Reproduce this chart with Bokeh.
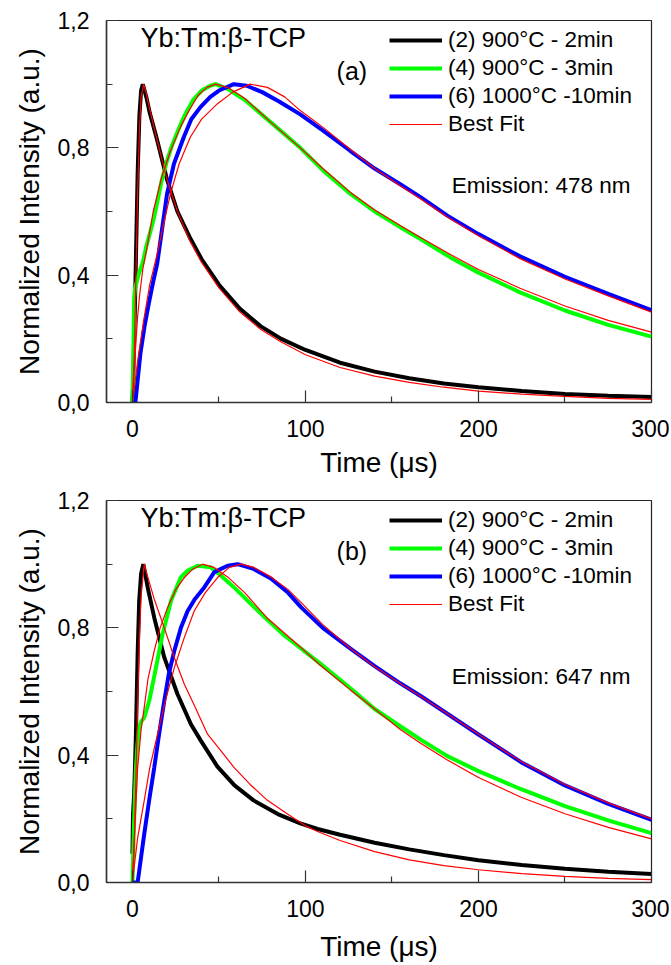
from bokeh.plotting import figure
from bokeh.models import Legend, LegendItem, Label, FixedTicker, CustomJSTickFormatter, Range1d
from bokeh.layouts import column
from bokeh.embed import file_html
from bokeh.resources import INLINE

FONT = "Liberation Sans"

# ---------------- Panel (a): Emission 478 nm ----------------
a_black_t = [0, 0.5, 1, 1.5, 2, 3, 4, 5, 6, 8, 10, 14, 20, 26, 33, 40, 50, 62, 74, 86, 100, 120, 140, 160, 180, 200, 225, 250, 275, 300]
a_black_y = [0, 0.08, 0.2, 0.32, 0.45, 0.72, 0.9, 0.98, 1.0, 0.96, 0.91, 0.83, 0.70, 0.60, 0.52, 0.45, 0.37, 0.295, 0.24, 0.20, 0.165, 0.125, 0.097, 0.076, 0.06, 0.048, 0.036, 0.027, 0.021, 0.017]
a_black_fit_t = [0, 1, 2, 3, 4, 5, 6.5, 8, 10, 14, 20, 26, 33, 40, 50, 62, 74, 86, 100, 120, 140, 160, 180, 200, 225, 250, 275, 300]
a_black_fit_y = [0, 0.15, 0.40, 0.66, 0.85, 0.96, 1.0, 0.97, 0.92, 0.83, 0.70, 0.60, 0.51, 0.44, 0.36, 0.285, 0.23, 0.19, 0.15, 0.11, 0.083, 0.063, 0.048, 0.036, 0.026, 0.019, 0.013, 0.01]

a_green_t = [0, 0.5, 1, 1.5, 2, 3, 4, 6, 8, 10, 12, 14, 17, 20, 23, 26, 30, 35, 40, 45, 48, 55, 65, 80, 97, 110, 126, 140, 155, 166, 184, 200, 224, 250, 275, 300]
a_green_y = [0, 0.15, 0.33, 0.36, 0.37, 0.39, 0.41, 0.44, 0.49, 0.53, 0.57, 0.62, 0.70, 0.76, 0.81, 0.85, 0.90, 0.95, 0.98, 0.995, 1.0, 0.985, 0.95, 0.88, 0.80, 0.73, 0.655, 0.60, 0.55, 0.515, 0.455, 0.408, 0.346, 0.289, 0.244, 0.207]
a_green_fit_t = [0, 1, 2, 3, 4, 6, 8.5, 12, 17, 22, 27.7, 33, 38, 43, 48, 55, 65, 80, 97, 110, 126, 140, 155, 166, 184, 200, 224, 250, 275, 300]
a_green_fit_y = [0, 0.1, 0.19, 0.27, 0.33, 0.42, 0.49, 0.6, 0.71, 0.79, 0.865, 0.92, 0.965, 0.99, 1.0, 0.99, 0.955, 0.88, 0.80, 0.735, 0.66, 0.605, 0.555, 0.52, 0.464, 0.418, 0.359, 0.303, 0.258, 0.221]

a_blue_t = [0, 1.7, 3, 4.6, 7, 9.4, 12, 14.3, 17, 20, 24, 29.7, 34, 39.3, 45, 50, 58.6, 66, 75, 85, 97, 110, 126, 140, 155, 166.5, 182, 200, 224, 250, 275, 300]
a_blue_y = [0, 0, 0.07, 0.154, 0.24, 0.31, 0.38, 0.436, 0.54, 0.656, 0.75, 0.834, 0.89, 0.928, 0.96, 0.98, 1.0, 0.995, 0.975, 0.945, 0.905, 0.855, 0.79, 0.735, 0.685, 0.645, 0.587, 0.529, 0.459, 0.395, 0.341, 0.29]
a_blue_fit_t = [0, 1, 3, 6.5, 10, 14.3, 18, 22, 27, 33.5, 40, 49, 58, 68, 78, 88, 97, 110, 126, 140, 155, 166.5, 182, 200, 224, 250, 275, 300]
a_blue_fit_y = [0, 0.04, 0.13, 0.258, 0.37, 0.467, 0.56, 0.656, 0.75, 0.834, 0.89, 0.938, 0.975, 1.0, 0.99, 0.96, 0.917, 0.865, 0.795, 0.735, 0.68, 0.64, 0.583, 0.524, 0.452, 0.388, 0.335, 0.284]

# ---------------- Panel (b): Emission 647 nm ----------------
b_black_t = [0, 0.3, 1, 1.5, 2, 3, 3.9, 5, 6.3, 8.8, 12.6, 18.4, 26, 33.8, 39.6, 49, 59, 70, 84, 97, 107, 120, 140, 160, 180, 200, 225, 250, 275, 300]
b_black_y = [0.09, 0.21, 0.28, 0.37, 0.466, 0.72, 0.885, 0.97, 1.0, 0.927, 0.832, 0.707, 0.592, 0.497, 0.445, 0.365, 0.305, 0.258, 0.215, 0.186, 0.168, 0.15, 0.125, 0.104, 0.086, 0.07, 0.055, 0.043, 0.034, 0.027]
b_black_fit_t = [0, 1, 2, 3, 4, 5, 6.8, 9, 12.6, 18.4, 24, 30, 36, 43.4, 50, 58.8, 68, 78, 89.6, 100, 107, 120, 140, 160, 180, 200, 225, 250, 275, 300]
b_black_fit_y = [0, 0.12, 0.33, 0.56, 0.76, 0.9, 1.0, 0.957, 0.89, 0.80, 0.709, 0.623, 0.554, 0.466, 0.421, 0.361, 0.308, 0.258, 0.215, 0.178, 0.16, 0.132, 0.097, 0.071, 0.053, 0.04, 0.028, 0.019, 0.013, 0.009]

b_green_t = [0, 1, 2, 3, 3.9, 5, 6.8, 9.7, 13.6, 17.4, 22.3, 27.9, 32, 37.6, 45.3, 52, 58.8, 68.5, 78, 88, 97.4, 108, 126, 140, 155, 166.8, 182, 200, 224.6, 250, 275, 300]
b_green_y = [0, 0.2, 0.361, 0.44, 0.487, 0.505, 0.518, 0.571, 0.675, 0.78, 0.885, 0.958, 0.98, 0.995, 0.99, 0.96, 0.927, 0.875, 0.825, 0.775, 0.735, 0.69, 0.61, 0.545, 0.49, 0.448, 0.397, 0.35, 0.293, 0.24, 0.195, 0.155]
b_green_fit_t = [0, 1, 3, 5, 6.8, 9, 12.6, 16, 20.3, 25, 30, 35, 40.5, 47, 55, 65, 78, 97, 108, 126, 140, 155, 166.8, 182, 200, 224.6, 250, 275, 300]
b_green_fit_y = [0, 0.13, 0.36, 0.48, 0.55, 0.64, 0.728, 0.8, 0.864, 0.92, 0.958, 0.985, 1.0, 0.99, 0.96, 0.91, 0.83, 0.74, 0.685, 0.605, 0.545, 0.48, 0.437, 0.385, 0.33, 0.268, 0.216, 0.173, 0.137]

b_blue_t = [0, 3, 5, 6.8, 9.7, 12.6, 15.5, 18.4, 21, 24.2, 28, 31.9, 36, 41.5, 47.3, 55, 60.8, 70, 80, 90, 97.4, 110, 126, 140, 155, 166.8, 182, 200, 224.6, 250, 275, 300]
b_blue_y = [0, 0, 0.08, 0.152, 0.26, 0.361, 0.47, 0.571, 0.655, 0.728, 0.80, 0.853, 0.89, 0.927, 0.975, 0.995, 1.0, 0.985, 0.955, 0.91, 0.865, 0.80, 0.735, 0.68, 0.625, 0.585, 0.53, 0.465, 0.378, 0.305, 0.247, 0.197]
b_blue_fit_t = [0, 1, 3, 6.8, 10, 14.5, 19, 24.2, 30, 35.7, 42, 49.2, 56, 62.7, 70, 80, 90, 97.4, 110, 126, 140, 155, 166.8, 182, 200, 224.6, 250, 275, 300]
b_blue_fit_y = [0, 0.05, 0.14, 0.257, 0.36, 0.466, 0.57, 0.675, 0.77, 0.853, 0.91, 0.958, 0.99, 1.0, 0.99, 0.96, 0.92, 0.88, 0.81, 0.735, 0.678, 0.624, 0.584, 0.53, 0.466, 0.38, 0.308, 0.25, 0.2]

series_labels = ["(2) 900°C - 2min", "(4) 900°C - 3min", "(6) 1000°C -10min", "Best Fit"]
x_ticks = [0, 100, 200, 300]
x_minor = [50, 150, 250]
y_ticks = [0.0, 0.4, 0.8, 1.2]
y_minor = [0.2, 0.6, 1.0]
sample_text = "Yb:Tm:β-TCP"
x_title = "Time (μs)"
y_title = "Normalized Intensity (a.u.)"

BLACK, GREEN, BLUE, RED = "#000000", "#00ff00", "#0000ff", "#ff0000"


def make_panel(data, tag, emission, top_border, bottom_border, xlabel_standoff):
    p = figure(frame_width=545, frame_height=382,
               x_range=Range1d(-15, 300), y_range=Range1d(0, 1.2),
               output_backend="svg", toolbar_location=None,
               min_border_left=106, min_border_right=18,
               min_border_top=top_border, min_border_bottom=bottom_border)
    p.grid.visible = False
    p.outline_line_color = "#222222"
    p.outline_line_width = 1.2
    p.background_fill_color = "white"
    p.border_fill_color = "white"

    (bt, by, bft, bfy, gt, gy, gft, gfy, ut, uy, uft, ufy) = data
    r_black = p.line(bt, by, line_color=BLACK, line_width=4)
    r_green = p.line(gt, gy, line_color=GREEN, line_width=4)
    r_blue = p.line(ut, uy, line_color=BLUE, line_width=4)
    r_fit = p.line(bft, bfy, line_color=RED, line_width=1.2)
    p.line(gft, gfy, line_color=RED, line_width=1.2)
    p.line(uft, ufy, line_color=RED, line_width=1.2)

    for ax in (p.xaxis[0], p.yaxis[0]):
        ax.axis_line_color = "#333333"
        ax.axis_line_width = 1.5
        ax.major_tick_line_color = "#333333"
        ax.minor_tick_line_color = "#333333"
        ax.major_tick_line_width = 1.2
        ax.minor_tick_line_width = 1.2
        ax.major_tick_out = 0
        ax.minor_tick_out = 0
        ax.major_tick_in = 12
        ax.minor_tick_in = 6
        ax.major_label_text_font = FONT
        ax.major_label_text_font_size = "23px"
        ax.major_label_text_color = "black"
        ax.axis_label_text_font = FONT
        ax.axis_label_text_font_style = "normal"
        ax.axis_label_text_color = "black"
        ax.axis_label_text_font_size = "28px"

    p.xaxis[0].ticker = FixedTicker(ticks=x_ticks, minor_ticks=x_minor)
    p.yaxis[0].ticker = FixedTicker(ticks=y_ticks, minor_ticks=y_minor)
    p.yaxis[0].formatter = CustomJSTickFormatter(code="return tick.toFixed(1).replace('.', ',');")
    p.xaxis[0].major_label_standoff = 17
    p.yaxis[0].major_label_standoff = 17
    p.xaxis[0].axis_label = x_title
    p.yaxis[0].axis_label = y_title
    p.xaxis[0].axis_label_standoff = xlabel_standoff
    p.yaxis[0].axis_label_standoff = 10

    legend = Legend(items=[LegendItem(label=series_labels[0], renderers=[r_black]),
                           LegendItem(label=series_labels[1], renderers=[r_green]),
                           LegendItem(label=series_labels[2], renderers=[r_blue]),
                           LegendItem(label=series_labels[3], renderers=[r_fit])],
                    location=(283, 265), orientation="vertical",
                    border_line_alpha=0, background_fill_alpha=0,
                    padding=0, margin=0, spacing=2,
                    glyph_width=53, glyph_height=20, label_height=20,
                    label_standoff=6,
                    label_text_font=FONT, label_text_font_size="22.5px",
                    label_text_color="black")
    p.add_layout(legend)

    p.add_layout(Label(x=4.6, y=1.145, text=sample_text, text_baseline="middle",
                       text_font=FONT, text_font_size="27px", text_color="black"))
    p.add_layout(Label(x=118.0, y=1.04, text=tag, text_baseline="middle",
                       text_font=FONT, text_font_size="25px", text_color="black"))
    p.add_layout(Label(x=184.5, y=emission[1], text=emission[0], text_baseline="middle",
                       text_font=FONT, text_font_size="22.5px", text_color="black"))
    return p


pa = make_panel((a_black_t, a_black_y, a_black_fit_t, a_black_fit_y,
                 a_green_t, a_green_y, a_green_fit_t, a_green_fit_y,
                 a_blue_t, a_blue_y, a_blue_fit_t, a_blue_fit_y),
                "(a)", ("Emission: 478 nm", 0.682), 20, 78, 7)
pb = make_panel((b_black_t, b_black_y, b_black_fit_t, b_black_fit_y,
                 b_green_t, b_green_y, b_green_fit_t, b_green_fit_y,
                 b_blue_t, b_blue_y, b_blue_fit_t, b_blue_fit_y),
                "(b)", ("Emission: 647 nm", 0.647), 20, 81, 11)

layout = column(pa, pb, spacing=0)
open("out.html", "w").write(file_html(layout, INLINE))
